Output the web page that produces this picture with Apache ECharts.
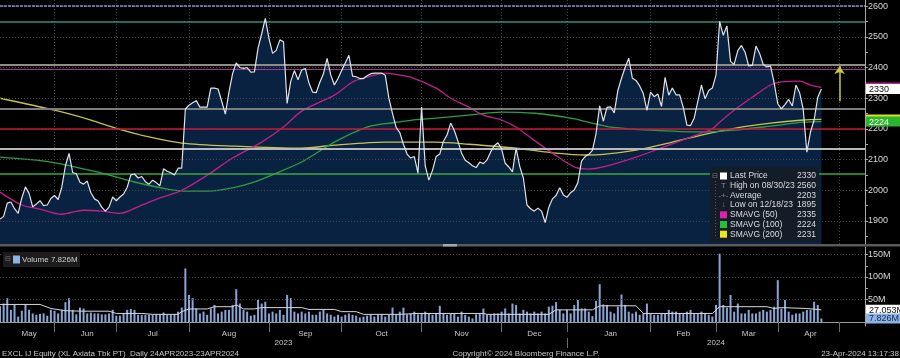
<!DOCTYPE html>
<html><head><meta charset="utf-8">
<script src="https://cdn.jsdelivr.net/npm/echarts@6/dist/echarts.min.js"></script>
<style>html,body{margin:0;padding:0;background:#000;}#c{width:900px;height:358px;}</style>
</head><body><div id="c"></div>
<script>
// ---------- data ----------
const monthNames = ['May','Jun','Jul','Aug','Sep','Oct','Nov','Dec','Jan','Feb','Mar','Apr','May'];
const monthYears = [2023,2023,2023,2023,2023,2023,2023,2023,2024,2024,2024,2024,2024];
const monthSessions = [15,17,20,22,20,22,22,18,23,18,17,17,8];
const yearLabels = ['2023','2024'];

const price = [
1906,1915,1958,1962,1940,1925,1975,2011,1990,1946,1955,1966,1950,1952,1973,
1983,1970,2010,2080,2120,2058,2054,2026,2020,2030,1992,1972,1965,1945,1932,1945,1978,
1966,1978,1988,2010,2050,2053,2040,2045,2028,2020,2033,2025,2015,2070,2062,2057,2050,2072,2072,
2265,2277,2285,2292,2271,2271,2271,2333,2333,2330,2290,2248,2320,2380,2415,2400,2397,2400,2385,2386,2463,2510,2560,
2495,2446,2456,2490,2484,2283,2355,2390,2360,2392,2397,2350,2320,2318,2352,2380,2430,2376,2343,2364,
2390,2415,2440,2372,2370,2364,2364,2373,2380,2382,2382,2382,2375,2300,2250,2205,2188,2150,2118,2105,2110,2056,
2271,2080,2033,2065,2110,2118,2160,2180,2219,2195,2160,2121,2098,2090,2080,2074,2092,2087,2099,2125,2145,2155,
2135,2088,2076,2060,2137,2078,2040,1952,1940,1932,1942,1932,1895,1945,1972,1983,2008,1985,
1977,1992,2001,2025,2095,2110,2117,2130,2185,2275,2225,2270,2272,2252,2325,2365,2400,2430,2365,2358,2340,2315,2260,
2320,2305,2314,2273,2368,2310,2333,2311,2311,2270,2212,2211,2235,2290,2343,2298,2325,2333,
2375,2550,2505,2535,2420,2410,2455,2472,2450,2405,2407,2470,2446,2410,2402,2405,2350,
2282,2265,2280,2296,2275,2343,2318,2265,2124,2190,2229,2303,2330
];

const volumeM = [
35,41,53,27,38,12,25,39,27,19,16,18,19,14,27,25,19,27,44,53,27,17,32,30,19,21,19,19,17,17,
19,27,14,14,19,27,29,27,16,16,16,16,16,16,16,21,16,16,17,23,32,119,60,53,30,19,23,16,30,38,
19,23,27,27,38,73,41,27,23,14,16,49,41,45,19,23,19,27,16,60,53,23,19,23,19,23,16,16,23,27,
19,16,12,16,12,16,19,16,14,10,12,14,16,12,16,17,12,16,32,16,23,32,17,19,23,17,19,23,19,16,
19,36,19,16,19,
19,12,23,16,12,8,17,19,30,16,17,19,19,23,30,19,41,38,19,27,23,19,23,19,23,19,34,36,44,27,
19,27,19,38,49,30,30,23,13,47,84,39,38,23,19,34,61,38,23,19,23,16,19,41,19,16,16,19,19,27,
23,23,19,19,23,27,19,19,23,19,16,12,38,152,38,32,60,23,41,19,19,27,19,19,23,27,23,27,34,93,
30,49,23,16,19,19,23,27,27,45,38,7.826
];

// moving averages: [session index, value]
const sma50 = [[0,1994],[6,1952],[11,1939],[17,1922],[23,1935],[28,1932],[33,1925],[39,1952],[44,1975],[50,2000],
[57,2049],[64,2105],[72,2157],[78,2206],[83,2258],[92,2310],[97,2353],[101,2369],[106,2382],[110,2375],[113,2369],
[120,2333],[124,2300],[129,2271],[133,2245],[138,2229],[142,2206],[145,2180],[152,2121],[158,2076],[162,2069],
[166,2076],[175,2108],[184,2147],[193,2186],[196,2200],[198,2222],[202,2261],[207,2303],[212,2343],[215,2353],
[220,2356],[223,2343],[226,2335]];
const sma100 = [[0,2108],[14,2092],[28,2056],[37,2027],[46,2004],[52,1997],[60,2000],[69,2023],[78,2066],[83,2092],
[92,2157],[101,2206],[108,2220],[113,2228],[120,2235],[129,2245],[138,2255],[147,2251],[157,2235],[164,2216],
[168,2206],[179,2196],[193,2190],[202,2196],[212,2209],[221,2222],[226,2224]];
const sma200 = [[0,2300],[15,2261],[25,2229],[32,2202],[41,2174],[50,2154],[64,2144],[83,2137],[92,2147],[106,2157],
[120,2157],[129,2150],[142,2137],[153,2121],[161,2115],[166,2117],[175,2131],[184,2154],[193,2180],[202,2202],
[212,2219],[221,2229],[226,2231]];
const volumeAvgM = [[0,39],[11,39],[14,30],[18,25],[23,24],[30,24],[32,19],[39,19],[42,17],[49,17],[50,23],[52,29],
[57,29],[59,34],[64,34],[65,38],[67,29],[70,29],[72,32],[83,32],[85,28],[92,28],[94,23],[98,23],[100,17],[110,17],
[115,19],[124,19],[133,19],[134,17],[151,17],[153,27],[163,27],[165,36],[175,36],[177,19],[196,19],[198,34],
[211,34],[213,30],[215,32],[222,30],[226,27.053]];

const levels = [2600,2550,2410,2395,2265,2200,2135,2055];
const priceTickLabels = [1900,2000,2100,2200,2300,2400,2500,2600];
const priceMinorTicks = [1850,1900,1950,2000,2050,2100,2150,2200,2250,2300,2350,2400,2450,2500,2550,2600];
const volTickLabels = [50,100,150];
const volTicks = [0,25,50,75,100,125,150];
const arrowSession = 231, arrowFrom = 2290, arrowTo = 2405;

const legendLabels = ['Last Price','High on 08/30/23','Average','Low on 12/18/23','SMAVG (50)','SMAVG (100)','SMAVG (200)'];
const legendValues = ['2330','2560','2203','1895','2335','2224','2231'];
const lastPrice = 2330, lastSma50 = 2335, lastSma100 = 2224, lastSma200 = 2231;
const lastVolume = 7.826, lastVolumeAvg = 27.053;
const footerLeft = 'EXCL IJ Equity (XL Axiata Tbk PT)  Daily 24APR2023-23APR2024';
const footerMid = 'Copyright\u00A9 2024 Bloomberg Finance L.P.';
const footerRight = '23-Apr-2024 13:17:38';

// ---------- build ----------
const cats = [], monthStart = [];
let n = 0;
monthNames.forEach((m, k) => {
  monthStart.push(n);
  for (let d = 1; d <= monthSessions[k]; d++) cats.push(m + ' ' + monthYears[k] + ' #' + d);
  n += monthSessions[k];
});
const total = cats.length;
const tickSet = new Set(monthStart.slice(1));
const monthMid = new Map();
monthStart.forEach((s, k) => {
  if (s >= price.length) return;
  const e = k + 1 < monthStart.length ? monthStart[k + 1] : total - 1;
  monthMid.set(Math.round((s + e) / 2), monthNames[k]);
});
const yearStart = monthStart[monthYears.indexOf(2024)];
const yearMid = new Map([[Math.round(yearStart / 2), yearLabels[0]], [Math.round((yearStart + total - 1) / 2), yearLabels[1]]]);

const FONT = "'Liberation Sans', Arial, sans-serif";
const levelStyles = [
  {color:'#8c8cd6', width:1.5, type:[3,1]},
  {color:'#2f8f78', width:1.5, type:'solid'},
  {color:'#8e8e84', width:2, type:'solid'},
  {color:'#9c3a94', width:1, type:'solid'},
  {color:'#7c7c7c', width:2, type:'solid'},
  {color:'#c8183a', width:1.5, type:'solid'},
  {color:'#b8b8b8', width:2, type:'solid'},
  {color:'#3aaa3a', width:1.5, type:'solid'}
];

const chart = echarts.init(document.getElementById('c'), null, {renderer:'canvas'});

const option = {
  backgroundColor:'#000',
  animation:false,
  textStyle:{fontFamily:FONT},
  grid:[
    {left:0, right:35, top:0, height:244},
    {left:0, right:35, top:247, height:79}
  ],
  xAxis:[
    {gridIndex:0, type:'category', data:cats, boundaryGap:false,
     axisLine:{show:false}, axisTick:{show:false}, axisLabel:{show:false},
     splitLine:{show:true, interval:(i) => tickSet.has(i), lineStyle:{color:'#4a4a4a', type:[1,2], width:1}}},
    {gridIndex:1, type:'category', data:cats, boundaryGap:false,
     axisLine:{show:true, lineStyle:{color:'#9a9a9a', width:1}},
     axisTick:{show:true, interval:(i) => tickSet.has(i), length:10, lineStyle:{color:'#6a6a6a'}},
     axisLabel:{show:true, interval:(i) => monthMid.has(i), formatter:(v, i) => monthMid.get(i) || '', color:'#c8c8c8', fontSize:8, margin:4},
     splitLine:{show:false}},
    {gridIndex:1, type:'category', data:cats, boundaryGap:false, position:'bottom', offset:12,
     axisLine:{show:false},
     axisTick:{show:true, interval:(i) => i === yearStart, length:10, lineStyle:{color:'#6a6a6a'}},
     axisLabel:{show:true, interval:(i) => yearMid.has(i), formatter:(v, i) => yearMid.get(i) || '', color:'#c8c8c8', fontSize:8, margin:1},
     splitLine:{show:false}}
  ],
  yAxis:[
    {gridIndex:0, type:'value', position:'right', min:1825, max:2620,
     axisLine:{show:true, lineStyle:{color:'#a8a8a8'}},
     axisTick:{show:true, length:3, customValues:priceMinorTicks, lineStyle:{color:'#a8a8a8'}},
     axisLabel:{show:true, customValues:priceTickLabels, formatter:(v) => String(v), color:'#d8d8d8', fontSize:9, margin:3},
     splitLine:{show:false}},
    {gridIndex:1, type:'value', position:'right', min:-8.9, max:166.7,
     axisLine:{show:true, lineStyle:{color:'#a8a8a8'}},
     axisTick:{show:true, length:3, customValues:volTicks, lineStyle:{color:'#a8a8a8'}},
     axisLabel:{show:true, customValues:volTickLabels, formatter:(v) => v + 'M', color:'#d8d8d8', fontSize:9, margin:3},
     splitLine:{show:false}}
  ],
  series:[
    {type:'line', xAxisIndex:0, yAxisIndex:0, data:[], silent:true, z:1,
     markLine:{silent:true, symbol:['none','none'], label:{show:false},
       lineStyle:{color:'#474747', type:[1,2], width:1},
       data:priceTickLabels.map(v => ({yAxis:v}))}},
    {type:'line', xAxisIndex:1, yAxisIndex:1, data:[], silent:true, z:1,
     markLine:{silent:true, symbol:['none','none'], label:{show:false},
       lineStyle:{color:'#474747', type:[1,2], width:1},
       data:volTickLabels.map(v => ({yAxis:v}))}},
    {type:'line', xAxisIndex:0, yAxisIndex:0, data:price, showSymbol:false, silent:true, z:2,
     lineStyle:{width:0}, areaStyle:{color:'#0a2242', opacity:1}},
    {type:'line', xAxisIndex:0, yAxisIndex:0, data:[], silent:true, z:3,
     markLine:{silent:true, symbol:['none','none'], label:{show:false},
       data:levels.map((v, k) => ({yAxis:v, lineStyle:levelStyles[k]}))}},
    {type:'line', xAxisIndex:0, yAxisIndex:0, data:sma200, showSymbol:false, smooth:0.3, silent:true, z:4,
     lineStyle:{color:'#c8c250', width:1.3}},
    {type:'line', xAxisIndex:0, yAxisIndex:0, data:sma100, showSymbol:false, smooth:0.3, silent:true, z:4,
     lineStyle:{color:'#2e9e3e', width:1.3}},
    {type:'line', xAxisIndex:0, yAxisIndex:0, data:sma50, showSymbol:false, smooth:0.3, silent:true, z:4,
     lineStyle:{color:'#c0208c', width:1.3}},
    {type:'line', xAxisIndex:0, yAxisIndex:0, data:price, showSymbol:false, silent:true, z:5,
     lineStyle:{color:'#dfe3ea', width:1.2},
     markLine:{silent:true, symbol:['none','arrow'], symbolSize:8, label:{show:false},
       lineStyle:{color:'#c8c83a', width:1.5, type:'solid'},
       data:[[{coord:[cats[arrowSession], arrowFrom]}, {coord:[cats[arrowSession], arrowTo]}]]}},
    {type:'bar', xAxisIndex:1, yAxisIndex:1, data:volumeM, barWidth:2, silent:true, z:2,
     itemStyle:{color:'#8aa6d6'}},
    {type:'line', xAxisIndex:1, yAxisIndex:1, data:volumeAvgM, showSymbol:false, silent:true, z:3,
     lineStyle:{color:'#d8d8d8', width:1}}
  ]
};
chart.setOption(option);

// ---------- overlays (legend, separators, footer, value boxes) ----------
const legendIcons = ['#ffffff', null, null, null, '#e020b0', '#22c33a', '#e8e820'];
const legendGlyph = ['', 'T', '-+-', '\u2193', '', '', ''];
const g = [];
g.push({type:'rect', shape:{x:0, y:244, width:900, height:2.5}, style:{fill:'#5a5a5a'}, z:100});
g.push({type:'rect', shape:{x:443, y:244, width:14, height:2.5}, style:{fill:'#a8a8a8'}, z:101});
g.push({type:'rect', shape:{x:710, y:167, width:109, height:75}, style:{fill:'#141c28'}, z:100});
g.push({type:'text', x:712, y:176, style:{text:'\u229F', fill:'#777', font:'7px ' + FONT, textVerticalAlign:'middle'}, z:101});
g.push({type:'line', shape:{x1:715.5, y1:181, x2:715.5, y2:236}, style:{stroke:'#555', lineDash:[1,2], lineWidth:1}, z:101});
legendLabels.forEach((lab, i) => {
  const cy = 176 + 9.7 * i;
  if (legendIcons[i]) g.push({type:'rect', shape:{x:720, y:cy - 3.5, width:7, height:7}, style:{fill:legendIcons[i]}, z:101});
  else g.push({type:'text', x:723.5, y:cy, style:{text:legendGlyph[i], fill:'#888', font:'8px ' + FONT, textAlign:'center', textVerticalAlign:'middle'}, z:101});
  g.push({type:'text', x:730, y:cy, style:{text:lab, fill:'#dcdcdc', font:'8.5px ' + FONT, textVerticalAlign:'middle'}, z:101});
  g.push({type:'text', x:816, y:cy, style:{text:legendValues[i], fill:'#dcdcdc', font:'8.5px ' + FONT, textAlign:'right', textVerticalAlign:'middle'}, z:101});
});
g.push({type:'rect', shape:{x:3, y:252, width:77, height:15}, style:{fill:'#1c1c1c'}, z:100});
g.push({type:'text', x:5, y:259.5, style:{text:'\u229F', fill:'#777', font:'7px ' + FONT, textVerticalAlign:'middle'}, z:101});
g.push({type:'rect', shape:{x:13, y:255.5, width:7, height:8}, style:{fill:'#8fb2e4'}, z:101});
g.push({type:'text', x:22, y:259.5, style:{text:'Volume ' + lastVolume.toFixed(3) + 'M', fill:'#d0d0d0', font:'8px ' + FONT, textVerticalAlign:'middle'}, z:101});
g.push({type:'text', x:2, y:354, style:{text:footerLeft, fill:'#c8c8c8', font:'8px ' + FONT, textVerticalAlign:'middle'}, z:101});
g.push({type:'text', x:526, y:354, style:{text:footerMid, fill:'#c8c8c8', font:'8px ' + FONT, textAlign:'center', textVerticalAlign:'middle'}, z:101});
g.push({type:'text', x:899, y:354, style:{text:footerRight, fill:'#c8c8c8', font:'8px ' + FONT, textAlign:'right', textVerticalAlign:'middle'}, z:101});

const axisX = chart.convertToPixel({xAxisIndex:0}, cats[total - 1]);
const box = (axis, value, text, bg, fg, z) => {
  const y = chart.convertToPixel(axis, value);
  g.push({type:'rect', shape:{x:axisX + 1, y:y - 5, width:40, height:10}, style:{fill:bg}, z:z});
  g.push({type:'text', x:axisX + 4, y:y + 0.5, style:{text:text, fill:fg, font:'9px ' + FONT, textVerticalAlign:'middle'}, z:z + 1});
};
box({yAxisIndex:0}, lastSma50, String(lastSma50), '#c0208c', '#c0208c', 110);
box({yAxisIndex:0}, lastPrice, String(lastPrice), '#ffffff', '#111111', 112);
box({yAxisIndex:0}, lastSma200, String(lastSma200), '#e0e020', '#e0e020', 110);
box({yAxisIndex:0}, lastSma100, String(lastSma100), '#2cb52c', '#ffffff', 112);
box({yAxisIndex:1}, lastVolumeAvg, lastVolumeAvg.toFixed(3) + 'M', '#ffffff', '#111111', 112);
box({yAxisIndex:1}, lastVolume, lastVolume.toFixed(3) + 'M', '#8fb2e4', '#1a2a4a', 114);
chart.setOption({graphic:g});
</script></body></html>
